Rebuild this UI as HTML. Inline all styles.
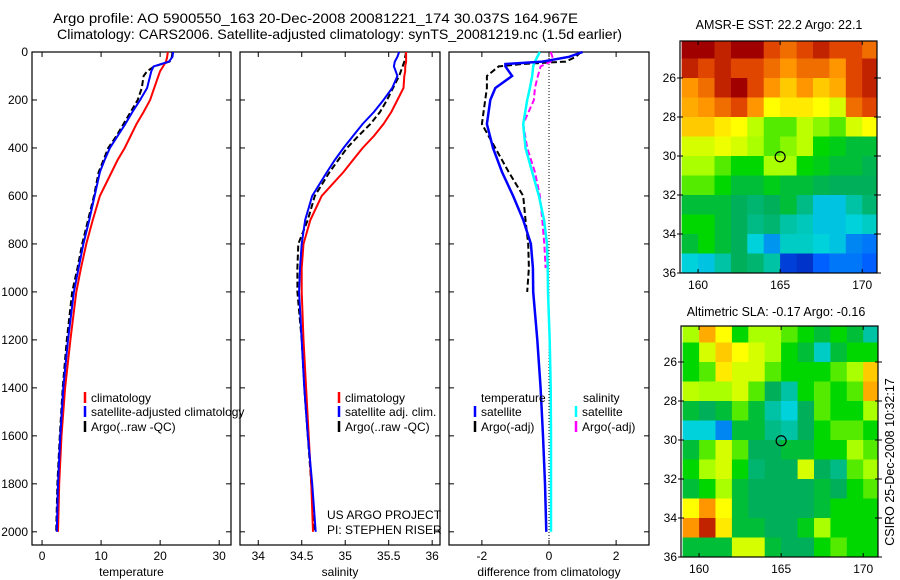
<!DOCTYPE html>
<html><head><meta charset="utf-8"><style>
body{margin:0;background:#fff}
svg{display:block;font-family:"Liberation Sans",sans-serif}
</style></head><body>
<svg id="fig" width="900" height="580" viewBox="0 0 900 580" xmlns="http://www.w3.org/2000/svg">
<rect width="900" height="580" fill="#fff"/>
<text x="53" y="23" font-size="14" textLength="525" lengthAdjust="spacingAndGlyphs">Argo profile: AO 5900550_163 20-Dec-2008 20081221_174 30.037S 164.967E</text>
<text x="57" y="39" font-size="14" textLength="565" lengthAdjust="spacingAndGlyphs">Climatology: CARS2006. Satellite-adjusted climatology: synTS_20081219.nc (1.5d earlier)</text>
<text x="779" y="29" font-size="12.5" text-anchor="middle">AMSR-E SST: 22.2 Argo: 22.1</text>
<text x="776" y="316" font-size="12.5" text-anchor="middle">Altimetric SLA: -0.17 Argo: -0.16</text>
<text transform="translate(894,462) rotate(-90)" font-size="12.5" text-anchor="middle">CSIRO 25-Dec-2008 10:32:17</text>
<text x="327" y="519" font-size="12">US ARGO PROJECT</text>
<text x="327" y="534" font-size="12">PI: STEPHEN RISER</text>
</svg>
<script>
// ---- profile data ----
const depths = [0,20,40,60,80,100,150,200,250,300,350,400,450,500,600,700,800,900,1000,1200,1400,1600,1800,2000];
const tempClim = [21.3,21.2,21,20.5,20,19.7,19,18.3,17.2,16,15,14,12.8,11.8,9.8,8.6,7.5,6.6,5.8,4.8,3.9,3.3,2.9,2.7];
const tempSat = [22.2,22.1,21.5,18.9,18.5,18.3,17.8,16.6,15.3,14.1,12.8,11.5,10.6,9.8,8.9,8,7,6.2,5.4,4.4,3.6,3.1,2.7,2.5];
const tempArgo = [22.1,22,21.6,19,17.8,17.2,16.9,16.2,15,13.8,12.6,11.2,10.4,9.6,8.8,7.8,6.8,6,5.1,4.2,3.5,3,2.6,2.4];
const salClim = [35.7,35.7,35.7,35.69,35.69,35.68,35.67,35.6,35.53,35.44,35.33,35.2,35.09,34.98,34.73,34.6,34.52,34.5,34.5,34.52,34.55,34.58,34.61,34.63];
const salSat = [35.62,35.6,35.57,35.56,35.58,35.6,35.54,35.44,35.33,35.2,35.09,34.98,34.88,34.79,34.62,34.54,34.5,34.48,34.47,34.5,34.53,34.57,34.62,34.66];
const salArgo = [35.7,35.69,35.68,35.66,35.64,35.62,35.55,35.48,35.4,35.29,35.15,35.02,34.92,34.82,34.65,34.57,34.46,34.45,34.45,34.5,34.53,34.57,34.61,34.64];
const diffDepths = [0,20,40,50,60,100,150,200,300,400,500,600,700,800,900,1000,1200,1400,1600,1800,2000];
const diffTempSat = [1.0,0.6,-0.2,-1.3,-1.3,-1.1,-1.6,-1.75,-1.85,-1.67,-1.4,-1.07,-0.77,-0.54,-0.48,-0.47,-0.35,-0.25,-0.18,-0.12,-0.08];
const diffTempArgo = [0.95,0.8,0.5,-0.8,-1.5,-1.85,-1.85,-1.9,-2.0,-1.6,-1.2,-0.77,-0.7,-0.62,-0.6,-0.65];
const diffSalSat = [-0.27,-0.35,-0.42,-0.45,-0.47,-0.5,-0.57,-0.65,-0.77,-0.7,-0.5,-0.3,-0.15,-0.06,-0.04,-0.03,0.02,0.05,0.06,0.06,0.06];
const diffSalArgo = [0.05,0.1,0.05,-0.1,-0.25,-0.33,-0.42,-0.45,-0.77,-0.65,-0.42,-0.27,-0.2,-0.14,-0.1];
const depthTicks = [0,200,400,600,800,1000,1200,1400,1600,1800,2000];
const tempTicks = [0,10,20,30];
const salTicks = [34,34.5,35,35.5,36];
const diffTicks = [-2,0,2];
// ---- map data (normalised colour index, rows lat 24..36, cols lon 159..171) ----
const mapLats = [24,25,26,27,28,29,30,31,32,33,34,35];
const mapLons = [159,160,161,162,163,164,165,166,167,168,169,170];
const sstGrid = [
[1,1,0.95,1,1,0.9,0.85,0.9,0.95,0.9,0.9,0.85],
[0.95,0.9,0.95,0.9,0.9,0.85,0.8,0.85,0.85,0.8,0.9,0.95],
[0.8,0.85,0.95,1,0.9,0.8,0.75,0.8,0.75,0.78,0.9,0.95],
[0.78,0.8,0.85,0.9,0.8,0.7,0.72,0.72,0.7,0.65,0.85,0.9],
[0.75,0.75,0.72,0.7,0.62,0.55,0.55,0.62,0.58,0.55,0.65,0.7],
[0.65,0.65,0.68,0.65,0.6,0.55,0.58,0.62,0.5,0.48,0.45,0.45],
[0.6,0.6,0.55,0.5,0.5,0.6,0.6,0.5,0.48,0.45,0.45,0.43],
[0.55,0.55,0.5,0.45,0.45,0.48,0.45,0.45,0.43,0.42,0.42,0.42],
[0.45,0.45,0.45,0.42,0.4,0.42,0.45,0.38,0.28,0.28,0.35,0.4],
[0.5,0.5,0.45,0.42,0.38,0.4,0.35,0.33,0.28,0.28,0.3,0.32],
[0.45,0.5,0.45,0.42,0.3,0.22,0.32,0.32,0.3,0.28,0.2,0.18],
[0.3,0.28,0.35,0.42,0.4,0.35,0.1,0.08,0.15,0.18,0.18,0.15]];
const slaGrid = [
[0.6,0.78,0.7,0.5,0.6,0.6,0.55,0.5,0.45,0.5,0.45,0.35],
[0.5,0.65,0.75,0.7,0.65,0.6,0.5,0.45,0.32,0.45,0.5,0.5],
[0.5,0.55,0.72,0.65,0.65,0.55,0.5,0.5,0.5,0.55,0.6,0.75],
[0.62,0.6,0.6,0.65,0.55,0.42,0.35,0.5,0.55,0.5,0.55,0.78],
[0.45,0.42,0.45,0.55,0.45,0.35,0.3,0.42,0.55,0.5,0.5,0.6],
[0.3,0.3,0.2,0.45,0.45,0.38,0.35,0.42,0.5,0.55,0.55,0.5],
[0.45,0.55,0.65,0.55,0.42,0.42,0.45,0.45,0.5,0.5,0.6,0.55],
[0.5,0.6,0.65,0.5,0.4,0.42,0.42,0.65,0.42,0.38,0.55,0.6],
[0.45,0.5,0.6,0.45,0.42,0.42,0.42,0.42,0.45,0.42,0.5,0.55],
[0.7,0.8,0.7,0.45,0.42,0.42,0.42,0.42,0.45,0.5,0.5,0.5],
[0.8,0.95,0.72,0.45,0.45,0.42,0.42,0.48,0.6,0.5,0.5,0.5],
[0.45,0.45,0.45,0.65,0.65,0.45,0.42,0.42,0.5,0.55,0.5,0.5]];
const floatLon = 165.0, floatLat = 30.04;
const lonTicks = [160,165,170];
const latTicks = [26,28,30,32,34,36];

const NS="http://www.w3.org/2000/svg";
const svg=document.getElementById('fig');
function mk(tag,attrs,parent){const e=document.createElementNS(NS,tag);for(const k in attrs)e.setAttribute(k,attrs[k]);(parent||svg).appendChild(e);return e;}
const PT=52, PB=545;
const yD = z => PT + (z/2055)*(PB-PT);

function panel(name,x0,x1,xmin,xmax,ticks,label,showY){
  const g=mk('g',{});
  
  
  const xs=v=>x0+(v-xmin)/(xmax-xmin)*(x1-x0);
  const fr=mk('rect',{x:x0,y:PT,width:x1-x0,height:PB-PT,fill:'none',stroke:'#000','stroke-width':1.2},g);
  
  
  ticks.forEach(t=>{
    const x=xs(t);
    mk('line',{x1:x,x2:x,y1:PB,y2:PB-5,stroke:'#000'},g);
    mk('line',{x1:x,x2:x,y1:PT,y2:PT+5,stroke:'#000'},g);
    const tl=mk('text',{x:x,y:PB+15,'font-size':12,'text-anchor':'middle'},g);
    
    
    tl.textContent=t;
  });
  depthTicks.forEach(d=>{
    const y=yD(d);
    mk('line',{x1:x0,x2:x0+5,y1:y,y2:y,stroke:'#000'},g);
    mk('line',{x1:x1,x2:x1-5,y1:y,y2:y,stroke:'#000'},g);
    if(showY){
      const tl=mk('text',{x:x0-4,y:y+4,'font-size':12,'text-anchor':'end'},g);
      
      
      tl.textContent=d;
    }
  });
  const xl=mk('text',{x:(x0+x1)/2,y:576,'font-size':12,'text-anchor':'middle'},g);
  
  
  xl.textContent=label;
  return {g,xs};
}
function line(p,vals,ds,color,dash,nm,w){
  const pts=vals.map((v,i)=>p.xs(v).toFixed(1)+','+yD(ds[i]).toFixed(1)).join(' ');
  const e=mk('polyline',{points:pts,fill:'none',stroke:color,'stroke-width':w||2,'stroke-dasharray':dash||'none'},p.g);
  
  
}
function legend(g,x,y,color,text,nm){
  const l=mk('line',{x1:x,x2:x,y1:y-10,y2:y+1,stroke:color,'stroke-width':2.5},g);
  const t=mk('text',{x:x+6,y:y,'font-size':12},g);
  t.textContent=text;
  
  
}
// Panel 1
const p1=panel('temperature-panel',32,231,-1.7,32,tempTicks,'temperature',true);
line(p1,tempArgo,depths,'#000','6,3','temp-argo-line');
line(p1,tempClim,depths,'#f00',null,'temp-climatology-line');
line(p1,tempSat,depths,'#00f',null,'temp-satellite-line');
legend(p1.g,85,402,'#f00','climatology','legend-climatology');
legend(p1.g,85,416,'#00f','satellite-adjusted climatology','legend-satellite');
legend(p1.g,85,431,'#000','Argo(..raw -QC)','legend-argo');
// Panel 2
const p2=panel('salinity-panel',240,440,33.79,36.09,salTicks,'salinity',false);
line(p2,salArgo,depths,'#000','6,3','sal-argo-line');
line(p2,salClim,depths,'#f00',null,'sal-climatology-line');
line(p2,salSat,depths,'#00f',null,'sal-satellite-line');
legend(p2.g,339,402,'#f00','climatology','legend-sal-climatology');
legend(p2.g,339,416,'#00f','satellite adj. clim.','legend-sal-satellite');
legend(p2.g,339,431,'#000','Argo(..raw -QC)','legend-sal-argo');
// Panel 3
const p3=panel('difference-panel',449,649,-2.98,2.98,diffTicks,'difference from climatology',false);
mk('line',{x1:p3.xs(0),x2:p3.xs(0),y1:PT,y2:PB,stroke:'#000','stroke-dasharray':'1,2'},p3.g);
line(p3,diffTempArgo,diffDepths.slice(0,diffTempArgo.length),'#000','6,3','diff-temp-argo-line');
line(p3,diffSalArgo,diffDepths.slice(0,diffSalArgo.length),'#f0f','6,3','diff-sal-argo-line');
line(p3,diffSalSat,diffDepths,'#0ff',null,'diff-sal-satellite-line',2.5);
line(p3,diffTempSat,diffDepths,'#00f',null,'diff-temp-satellite-line',2.5);
{const t=mk('text',{x:481,y:402,'font-size':12},p3.g);t.textContent='temperature';

const s=mk('text',{x:583,y:402,'font-size':12},p3.g);s.textContent='salinity';
}
legend(p3.g,475,416,'#00f','satellite','legend-diff-temp-sat');
legend(p3.g,475,431,'#000','Argo(-adj)','legend-diff-temp-argo');
legend(p3.g,576,416,'#0ff','satellite','legend-diff-sal-sat');
legend(p3.g,576,431,'#f0f','Argo(-adj)','legend-diff-sal-argo');

// Maps
const cstops=[[0,[0,0,140]],[0.15,[0,96,255]],[0.3,[0,210,220]],[0.42,[0,175,90]],[0.5,[0,215,0]],[0.6,[170,255,0]],[0.7,[255,255,0]],[0.8,[255,150,0]],[0.9,[225,70,0]],[1,[160,0,0]]];
function cmap(v){for(let i=1;i<cstops.length;i++){if(v<=cstops[i][0]){const a=cstops[i-1],b=cstops[i],f=(v-a[0])/(b[0]-a[0]);return 'rgb('+a[1].map((c,k)=>Math.round(c+f*(b[1][k]-c))).join(',')+')';}}return 'rgb(160,0,0)';}
function map(name,grid,x0,x1,yTop,yLat26){
  const g=mk('g',{});
  
  
  const pxLat=19.5, lonMin=158.9, lonMax=170.9;
  const xs=lon=>x0+(lon-lonMin)/(lonMax-lonMin)*(x1-x0);
  const ys=lat=>yLat26+(lat-26)*pxLat;
  const yB=ys(36);
  const clip='clip-'+name;
  const cp=mk('clipPath',{id:clip},g);mk('rect',{x:x0,y:yTop,width:x1-x0,height:yB-yTop},cp);
  const cg=mk('g',{'clip-path':'url(#'+clip+')'},g);
  grid.forEach((row,r)=>row.forEach((v,c)=>{
    const e=mk('rect',{x:xs(mapLons[c]).toFixed(1),y:ys(mapLats[r]).toFixed(1),width:(xs(mapLons[c]+1)-xs(mapLons[c])+0.5).toFixed(1),height:pxLat+0.5,fill:cmap(v)},cg);
    
    
  }));
  mk('rect',{x:x0,y:yTop,width:x1-x0,height:yB-yTop,fill:'none',stroke:'#000','stroke-width':1.2},g);
  lonTicks.forEach(l=>{const x=xs(l);mk('line',{x1:x,x2:x,y1:yB,y2:yB-4,stroke:'#000'},g);mk('line',{x1:x,x2:x,y1:yTop,y2:yTop+4,stroke:'#000'},g);
    const t=mk('text',{x:x,y:yB+16,'font-size':12,'text-anchor':'middle'},g);t.textContent=l;
    });
  latTicks.forEach(l=>{const y=ys(l);mk('line',{x1:x0-3,x2:x0+3,y1:y,y2:y,stroke:'#000'},g);mk('line',{x1:x1-3,x2:x1+4,y1:y,y2:y,stroke:'#000'},g);
    const t=mk('text',{x:x0-4,y:y+4,'font-size':12,'text-anchor':'end'},g);t.textContent=l;
    });
  const c=mk('circle',{cx:xs(floatLon),cy:ys(floatLat),r:5,fill:'none',stroke:'#000','stroke-width':1.2},g);
  
  
}
map('sst-map',sstGrid,680,877,41,78);
map('sla-map',slaGrid,681,878,326,362);
</script>
</body></html>
